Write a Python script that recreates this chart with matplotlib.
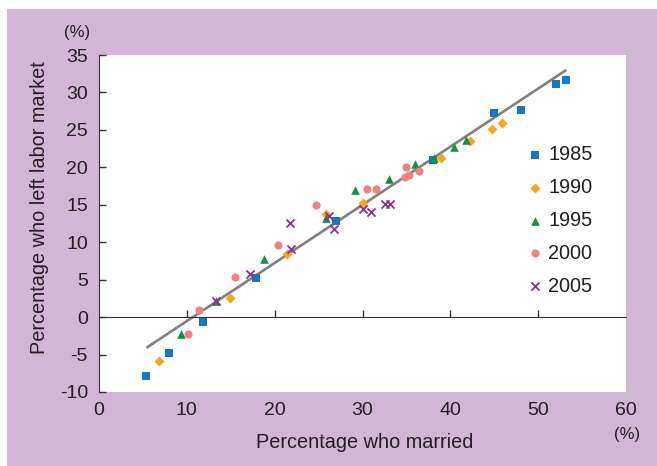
#!/usr/bin/env python3
# plot.py - married vs left labor market scatter

import matplotlib
matplotlib.use("Agg")
import matplotlib.pyplot as plt
from matplotlib.patches import Rectangle

plt.rcParams["font.family"] = ["Liberation Sans", "DejaVu Sans"]

# data (x = % who married, y = % who left labor market)
x_1985 = [5.4, 8.0, 11.8, 17.9, 27.0, 38.0, 45.0, 48.0, 52.0, 53.2]
y_1985 = [-7.9, -4.85, -0.7, 5.2, 12.9, 21.0, 27.2, 27.7, 31.1, 31.6]

x_1990 = [6.8, 14.9, 21.4, 25.9, 30.1, 38.9, 42.2, 44.7, 45.9]
y_1990 = [-5.8, 2.5, 8.4, 13.75, 15.3, 21.3, 23.5, 25.1, 25.9]

x_1995 = [9.3, 13.3, 18.8, 25.8, 29.2, 33.0, 36.0, 38.1, 40.4, 41.75]
y_1995 = [-2.2, 2.2, 7.7, 13.3, 17.0, 18.5, 20.4, 21.3, 22.7, 23.6]

x_2000 = [10.1, 11.4, 15.5, 20.4, 24.7, 30.5, 31.5, 34.8, 35.3, 35.0, 36.4]
y_2000 = [-2.2, 1.0, 5.3, 9.65, 15.0, 17.1, 17.05, 18.7, 18.95, 20.1, 19.45]

x_2005 = [13.3, 17.2, 21.9, 21.7, 26.2, 26.7, 30.0, 31.0, 32.6, 33.1]
y_2005 = [2.2, 5.7, 9.1, 12.6, 13.5, 11.75, 14.5, 14.0, 15.1, 15.1]

# fitted line end points
fit_x = [5.4, 53.2]
fit_y = [-4.1, 33.0]

x_ticks = [0, 10, 20, 30, 40, 50, 60]
y_ticks = [-10, -5, 0, 5, 10, 15, 20, 25, 30, 35]

TEXT = "#231f20"
BG = "#d3b5d6"


def main():
    fig = plt.figure(figsize=(6.57, 4.66), dpi=100)
    fig.patch.set_facecolor("white")
    # purple panel behind everything
    fig.patches.append(Rectangle((7 / 657, 0.0), 650 / 657, 457 / 466,
                                 transform=fig.transFigure,
                                 facecolor=BG, edgecolor="none", zorder=-10))

    ax = fig.add_axes([99 / 657, 74 / 466, 527 / 657, 337 / 466])
    ax.set_facecolor("white")

    ax.plot(fit_x, fit_y, color="#808080", lw=1.9, zorder=1,
            solid_capstyle="butt")

    ax.scatter(x_1985, y_1985, marker="s", s=40, color="#1479c1",
               lw=0, label="1985", zorder=3)
    ax.scatter(x_1990, y_1990, marker="D", s=26, color="#f8a41d",
               lw=0, label="1990", zorder=3)
    ax.scatter(x_1995, y_1995, marker="^", s=38, color="#0f9243",
               lw=0, label="1995", zorder=3)
    ax.scatter(x_2000, y_2000, marker="o", s=34, color="#f28080",
               lw=0, label="2000", zorder=3)
    ax.scatter(x_2005, y_2005, marker="x", s=34, color="#8e2f91",
               lw=1.3, label="2005", zorder=3)

    ax.set_xlim(0, 60)
    ax.set_ylim(-10, 35)

    # horizontal axis line sits on y = 0, ticks pointing up
    ax.spines["bottom"].set_position(("data", 0))
    ax.spines["top"].set_visible(False)
    ax.spines["right"].set_visible(False)
    ax.spines["left"].set_color("#333333")
    ax.spines["bottom"].set_color("#333333")
    ax.set_xticks([10, 20, 30, 40, 50])
    ax.tick_params(axis="x", direction="in", length=5, width=1,
                   color="#333333", labelbottom=False)
    ax.set_yticks(y_ticks)
    ax.set_yticklabels([str(t) for t in y_ticks])
    ax.tick_params(axis="y", direction="in", length=5, width=1,
                   color="#333333", labelsize=14, labelcolor=TEXT, pad=8)

    # tick labels for x sit below the plot area
    sec = ax.secondary_xaxis("bottom")
    sec.set_xticks(x_ticks)
    sec.set_xticklabels([str(t) for t in x_ticks])
    sec.spines["bottom"].set_visible(False)
    sec.tick_params(length=0, labelsize=14, labelcolor=TEXT, pad=7)

    fig.text(77 / 657, 1 - 33 / 466, "(%)", ha="center", va="center",
             fontsize=12, color=TEXT)
    fig.text(627 / 657, 1 - 434 / 466, "(%)", ha="center", va="center",
             fontsize=12, color=TEXT)
    fig.text(365 / 657, 1 - 442 / 466, "Percentage who married",
             ha="center", va="center", fontsize=14.3, color=TEXT)
    fig.text(40 / 657, 1 - 208 / 466, "Percentage who left labor market",
             ha="center", va="center", rotation=90, fontsize=14.3,
             color=TEXT)

    leg = ax.legend(loc="upper left", bbox_to_anchor=(515 / 657, 1 - 135 / 466),
                    bbox_transform=fig.transFigure, frameon=False,
                    fontsize=14.3, labelspacing=0.7, handletextpad=0.18,
                    handlelength=1.0, borderpad=0, scatterpoints=1)
    for t in leg.get_texts():
        t.set_color(TEXT)

    fig.savefig("out.png", dpi=100, facecolor=fig.get_facecolor())


if __name__ == "__main__":
    main()
